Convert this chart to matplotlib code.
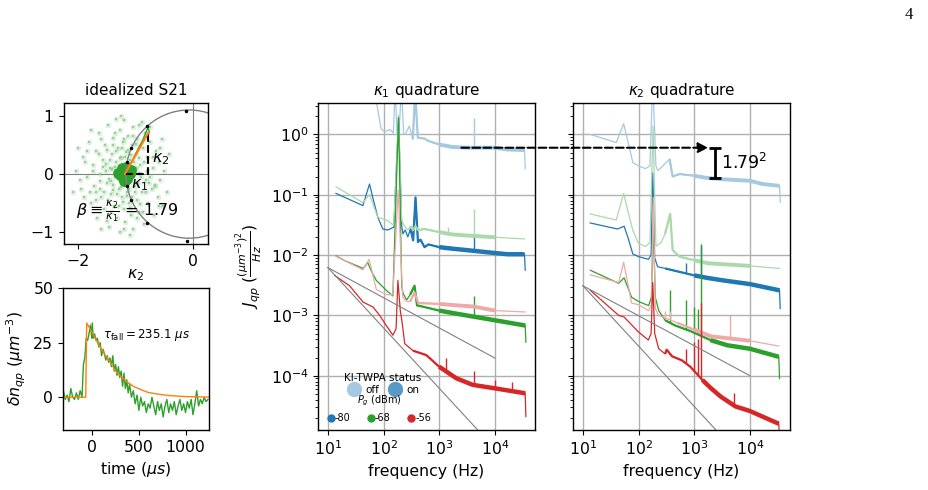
" Recreation of the KI-TWPA quasiparticle noise figure "

import numpy as np
import matplotlib
matplotlib.use("Agg")
import matplotlib.pyplot as plt
import matplotlib.colors as mcolors
from matplotlib.lines import Line2D
from matplotlib.patches import Circle, ConnectionPatch

# ---------------- data: idealized S21 ----------------
circle_center = (-0.07, 0.0)
circle_radius = 1.1
dot_x = [-0.13, -0.80, -1.08, -1.16, -1.16, -1.08, -0.80, -0.10]
dot_y = [1.08, 0.82, 0.44, 0.20, -0.20, -0.44, -0.84, -1.14]
cloud_x = [-2.05, -1.95, -1.92, -1.85, -1.82, -1.78, -1.75, -1.72, -1.70, -1.68,
           -1.65, -1.62, -1.60, -1.58, -1.55, -1.53, -1.50, -1.48, -1.46, -1.45,
           -1.43, -1.42, -1.40, -1.38, -1.36, -1.35, -1.33, -1.31, -1.30, -1.28,
           -1.27, -1.25, -1.24, -1.22, -1.21, -1.20, -1.18, -1.17, -1.15, -1.14,
           -1.12, -1.10, -1.09, -1.07, -1.05, -1.04, -1.02, -1.00, -0.98, -0.97,
           -0.95, -0.93, -0.90, -0.88, -0.86, -0.84, -0.82, -0.80, -0.78, -0.75,
           -0.72, -0.70, -0.68, -0.65, -0.62, -0.60, -0.57, -0.55, -0.52, -0.50,
           -0.45, -0.42, -1.60, -1.50, -1.70, -1.88, -1.34, -1.10, -0.90, -1.98,
           -2.10, -1.52, -1.44, -1.02, -0.94, -0.76, -1.62, -1.36, -0.66, -1.80,
           -1.45, -1.40, -1.35, -1.32, -1.28, -1.26, -1.24, -1.22, -1.18, -1.16,
           -1.13, -1.11, -1.08, -1.06, -1.03, -1.01, -0.99, -0.96, -0.94, -0.91,
           -1.50, -1.55, -1.58, -1.62, -1.48, -1.40, -1.30, -1.20, -1.10, -1.00,
           -0.92, -0.85, -0.83, -0.80, -0.77, -1.65, -1.70, -1.74, -1.44, -1.36,
           -1.52, -1.47, -1.42, -1.39, -1.05, -0.98, -0.88, -0.70, -0.67, -0.60,
           -1.85, -1.90, -1.60, -1.25, -0.95, -0.75, -0.58, -1.78, -2.00, -1.20]
cloud_y = [0.05, -0.25, 0.30, -0.05, 0.55, -0.50, 0.15, -0.20, 0.40, -0.75,
           0.70, 0.00, -0.40, 0.25, -0.60, 0.50, -0.15, 0.85, -0.90, 0.10,
           -0.35, 0.35, 0.62, -0.55, -0.05, 0.20, -0.75, 0.45, -0.25, 0.75,
           -1.00, 0.30, -0.40, 0.55, -0.60, 0.92, -0.82, 0.38, -0.30, 0.65,
           -0.50, 0.25, -0.70, 0.50, -0.95, 0.80, -0.20, 0.35, -0.45, 0.60,
           -0.65, 0.15, -0.30, 0.45, -0.85, 0.70, -0.10, 0.30, -0.50, 0.55,
           -0.25, 0.10, -0.70, 0.40, -0.40, 0.20, -0.10, 0.60, -0.55, 0.05,
           -0.30, 0.35, 0.60, -0.80, -0.45, 0.20, 0.95, -1.05, 0.90, -0.10,
           -0.30, 0.05, -0.12, 0.10, 0.02, -0.05, -0.25, 0.12, -0.18, -0.30,
           0.25, -0.18, 0.40, -0.35, 0.28, -0.22, 0.45, -0.48, 0.30, -0.38,
           0.42, -0.25, 0.32, -0.40, 0.20, -0.30, 0.10, -0.15, 0.28, -0.05,
           0.42, -0.30, 0.12, -0.12, -0.45, 0.50, -0.55, 0.60, -0.58, 0.52,
           -0.52, 0.20, -0.30, 0.05, -0.15, 0.35, -0.30, 0.05, -0.65, 0.70,
           0.18, -0.08, 0.08, -0.28, 0.65, -0.75, -0.65, 0.30, -0.20, -0.55,
           0.40, -0.40, -0.95, 1.00, 0.85, 0.80, 0.45, 0.75, 0.45, -0.95]
core_x = [-1.19, -1.26, -1.12, -1.22, -1.15, -1.19, -1.28, -1.10, -1.18, -1.24,
          -1.13, -1.17, -1.31, -1.21, -1.08]
core_y = [0.00, 0.04, 0.05, -0.07, -0.08, 0.10, -0.02, 0.00, -0.12, 0.10,
          -0.03, 0.13, 0.02, -0.11, 0.07]
trace_x = [-1.17, -1.05, -0.95, -0.88, -0.82, -0.79, -0.76, -0.80]
trace_y = [0.05, 0.25, 0.45, 0.58, 0.72, 0.80, 0.72, 0.66]
kappa_x = [-1.19, -0.78, -0.78]
kappa_y = [0.0, 0.0, 0.71]
beta = 1.79

# ---------------- data: time trace ----------------
time_us = [-310, -290, -270, -250, -230, -210, -190, -170, -150, -130, -110,
           -95, -80, -65, -50, -35, -20, -5, 0, 10, 25, 40, 55, 70, 85, 100,
           115, 130, 145, 160, 175, 190, 205, 220, 235, 250, 265, 280, 295, 310,
           325, 340, 355, 370, 385, 400, 420, 440, 460, 480, 500, 520, 540, 560,
           580, 600, 620, 640, 660, 680, 700, 720, 740, 760, 780, 800, 820, 840,
           860, 880, 900, 920, 940, 960, 980, 1000, 1020, 1040, 1060, 1080, 1100,
           1120, 1140, 1160, 1180, 1200, 1220, 1240]
dnqp = [3, -1, 1, -2, 4, 0, -1, 2, -1, 3, 0,
        15, 18, 27, 26, 29, 33, 27, 34, 27, 29, 26, 27, 23, 25, 19,
        22, 20, 17, 19, 16, 18, 14, 19, 12, 15, 10, 14, 9, 12,
        5, 11, 4, 8, 2, 6, 0, 3, -3, 1, -6, 0, -4, -2,
        -7, -3, -5, 0, -4, -8, -2, -6, -3, -9, -4, -1, -7, -3,
        -6, -2, -8, -4, -1, -6, -3, -7, -2, -5, -1, -8, -3,
        3, -4, -1, -3, 0, -2, -1]
fit_time_us = [-314, -70, -60, -40, 0, 50, 100, 150, 200, 260, 320, 380, 440,
               520, 600, 725, 850, 1000, 1250]
fit_dnqp = [0, 0, 34, 32.5, 29.5, 25.5, 22, 18.5, 15.5, 11.5, 9, 6.8, 5,
            3.5, 2.2, 1.3, 0.7, 0.3, 0.1]
tau_fall = 235.1

# ---------------- data: kappa1 quadrature spectra ----------------
k1_off_blue_f = [14, 42, 55, 65, 74, 90, 105, 130, 150, 162, 175, 190, 210, 230,
                 245, 290, 335, 370, 412, 550, 630, 1000, 1660, 3300, 10000,
                 17000, 34000, 35000]
k1_off_blue_j = [9, 6, 12, 5, 3.6, 1.25, 1.1, 1.2, 1.05, 6, 1.0, 1.1, 6, 1.0,
                 1.0, 1.37, 0.83, 5, 0.88, 0.85, 0.78, 0.68, 0.62, 0.60, 0.60,
                 0.56, 0.55, 0.27]
k1_off_blue_spikes = [(4200, 1.9)]
k1_on_blue_f = [14, 42.5, 56, 64, 79, 97, 120, 153, 186, 212, 223, 245, 273,
                305, 340, 375, 415, 460, 545, 640, 1000, 1660, 3300, 10000,
                17000, 34000, 35000]
k1_on_blue_j = [0.105, 0.066, 0.15, 0.09, 0.042, 0.027, 0.026, 0.029, 1.88,
                0.03, 0.0225, 0.026, 0.020, 0.027, 0.0175, 0.09, 0.0164, 0.018,
                0.0135, 0.015, 0.0135, 0.0128, 0.012, 0.0108, 0.0103, 0.0103,
                0.0056]
k1_on_blue_spikes = [(4200, 0.02)]
k1_off_green_f = [14, 42.5, 56, 79, 97, 120, 153, 186, 212, 245, 273, 305, 340,
                  375, 415, 545, 1000, 1660, 3300, 10000, 34000]
k1_off_green_j = [0.135, 0.074, 0.1, 0.042, 0.04, 0.037, 0.031, 2.08, 0.037,
                  0.029, 0.026, 0.03, 0.026, 0.03, 0.026, 0.027, 0.024, 0.022,
                  0.021, 0.0197, 0.0185]
k1_off_green_spikes = [(1440, 0.029), (4200, 0.058)]
k1_on_green_f = [14, 20, 43, 52, 60, 74, 112, 147, 186, 212, 225, 260, 300, 360,
                 400, 500, 1000, 2000, 10000, 35000, 36000]
k1_on_green_j = [0.0097, 0.0081, 0.006, 0.0075, 0.0055, 0.0038, 0.0026, 0.0021,
                 1.9, 0.003, 0.0023, 0.0018, 0.0022, 0.0031, 0.00146, 0.0014,
                 0.0012, 0.00107, 0.00083, 0.00068, 0.00036]
k1_on_green_spikes = [(4200, 0.0021)]
k1_off_red_f = [14, 42.5, 55, 74, 112, 147, 183, 220, 260, 300, 360, 420, 1000,
                2000, 4200, 10000, 35000]
k1_off_red_j = [0.0095, 0.0057, 0.0085, 0.0027, 0.0022, 0.0022, 0.12, 0.002,
                0.0017, 0.0017, 0.0024, 0.0016, 0.00155, 0.00147, 0.0014,
                0.0012, 0.00114]
k1_off_red_spikes = []
k1_on_red_f = [13.2, 24.5, 43, 65, 85, 112, 147, 168, 181, 200, 217, 240, 338,
               585, 1000, 2030, 4000, 10000, 35000, 36000]
k1_on_red_j = [0.0046, 0.0031, 0.00166, 0.00137, 0.001, 0.00068, 0.00047,
               0.0006, 0.0038, 0.0012, 0.00073, 0.00034, 0.00026, 0.00022,
               0.000141, 0.0000907, 0.0000706, 0.0000618, 0.0000512, 0.000021]
k1_on_red_spikes = [(1340, 0.0002), (4200, 0.00012), (10200, 0.000085),
                    (20000, 0.00008)]

# ---------------- data: kappa2 quadrature spectra ----------------
k2_off_blue_f = [13.5, 39.7, 54, 64, 79, 100, 133, 160, 180, 205, 222, 254, 360,
                 410, 545, 1000, 1660, 3300, 10000, 17000, 34000, 35000]
k2_off_blue_j = [1.0, 0.73, 1.5, 0.78, 0.34, 0.30, 0.27, 0.30, 8.0, 0.3, 0.25,
                 0.28, 0.39, 0.2, 0.22, 0.206, 0.19, 0.18, 0.17, 0.15, 0.14,
                 0.075]
k2_off_blue_spikes = []
k2_on_blue_f = [13.5, 42, 55, 64, 79, 100, 150, 168, 180, 195, 220, 300, 1000,
                1660, 3300, 10000, 34000, 35000]
k2_on_blue_j = [0.034, 0.027, 0.03, 0.02, 0.0104, 0.0094, 0.0085, 0.01, 0.23,
                0.009, 0.0064, 0.006, 0.0046, 0.0042, 0.0038, 0.0033, 0.0026,
                0.0013]
k2_on_blue_spikes = [(720, 0.0073), (1300, 0.0145)]
k2_off_green_f = [13.5, 39.7, 54, 64, 79, 100, 133, 160, 182, 205, 254, 300,
                  370, 410, 545, 1000, 1800, 10000, 34000]
k2_off_green_j = [0.048, 0.038, 0.105, 0.055, 0.0255, 0.0154, 0.0139, 0.016,
                  1.37, 0.014, 0.016, 0.0226, 0.048, 0.012, 0.0094, 0.0082,
                  0.0073, 0.0066, 0.006]
k2_off_green_spikes = []
k2_on_green_f = [13.6, 44, 55, 75, 100, 152, 170, 184, 200, 230, 300, 455, 850,
                 1950, 3900, 10000, 33000, 34000]
k2_on_green_j = [0.0056, 0.0034, 0.0042, 0.002, 0.0017, 0.00145, 0.002, 0.031,
                 0.002, 0.0012, 0.00083, 0.00068, 0.00055, 0.00039, 0.00032,
                 0.00028, 0.000206, 0.00009]
k2_on_green_spikes = [(370, 0.0026), (720, 0.0018), (1000, 0.00137),
                      (1160, 0.0013), (1330, 0.015)]
k2_off_red_f = [13.6, 44, 54, 75, 100, 152, 170, 184, 200, 230, 500, 1000, 2000,
                10000, 33000]
k2_off_red_j = [0.0047, 0.0035, 0.0076, 0.0016, 0.0015, 0.0012, 0.0015, 0.09,
                0.0013, 0.001, 0.00075, 0.00058, 0.00045, 0.00038, 0.00031]
k2_off_red_spikes = [(300, 0.0012), (370, 0.0012), (4300, 0.001)]
k2_on_red_f = [13.6, 44, 55, 100, 150, 168, 180, 195, 230, 300, 320, 400, 600,
               850, 1400, 2000, 3000, 5500, 10000, 33000, 34000]
k2_on_red_j = [0.0026, 0.001, 0.00094, 0.00053, 0.00039, 0.0005, 0.0035, 0.0005,
               0.00028, 0.00023, 0.00027, 0.00021, 0.00018, 0.000141, 0.000085,
               0.000062, 0.000045, 0.000031, 0.000026, 0.000016, 0.000008]
k2_on_red_spikes = [(700, 0.00028), (1000, 0.00036), (1160, 0.0004),
                    (1330, 0.0016), (5200, 0.000052)]

# guide lines (f^-1/2 and f^-1) and the beta^2 annotation
k1_guide_f = [10, 10000]
k1_guide_half = [6.2e-3, 1.96e-4]
k1_guide_one = [6.2e-3, 6.2e-6]
k2_guide_f = [10, 10000]
k2_guide_half = [3.1e-3, 1.0e-4]
k2_guide_one = [3.1e-3, 3.1e-6]
arrow_f_start = 2500
arrow_f_end = 1790
arrow_level = 0.6
bar_f = 2400

power_labels = ["-80", "-68", "-56"]
twpa_labels = ["off", "on"]
base_colors = ["tab:blue", "tab:green", "tab:red"]


def lighten(color, alpha=0.4):
    rgb = np.array(mcolors.to_rgb(color))
    return tuple(alpha * rgb + (1 - alpha) * np.ones(3))


def draw_spectrum(ax, f, j, spikes, color, band_lw):
    f = np.asarray(f, dtype=float)
    j = np.asarray(j, dtype=float)
    ax.plot(f, j, color=color, lw=0.9)
    mid = (f >= 300) & (f < f.max())
    ax.plot(f[mid], j[mid], color=color, lw=1.6, solid_capstyle="butt")
    tail = (f >= 1000) & (f < f.max())
    ax.plot(f[tail], j[tail], color=color, lw=band_lw, solid_capstyle="butt")
    for sf, top in spikes:
        base = 10 ** np.interp(np.log10(sf), np.log10(f), np.log10(j))
        ax.vlines(sf, base, top, color=color, lw=1.0)


plt.rcParams["axes.linewidth"] = 1.0
plt.rcParams["font.size"] = 11.3
plt.rcParams["axes.titlesize"] = 11
fig = plt.figure(figsize=(9.29, 4.9), dpi=100)

# ---------------- idealized S21 ----------------
ax_s21 = fig.add_axes([0.0684, 0.502, 0.1555, 0.2878])
ax_s21.axhline(0, color="gray", lw=0.8, zorder=0)
ax_s21.axvline(0, color="gray", lw=0.8, zorder=0)
ax_s21.scatter(cloud_x, cloud_y, s=16, color="tab:green", alpha=0.16,
               linewidths=0)
ax_s21.scatter(cloud_x, cloud_y, s=1.5, color=lighten("tab:green", 0.5),
               linewidths=0, marker="s")
ax_s21.scatter(core_x, core_y, s=60, color="tab:green", linewidths=0)
ax_s21.plot(trace_x, trace_y, color="tab:green", lw=1)
ax_s21.add_patch(Circle(circle_center, circle_radius, fill=False,
                        color="gray", lw=1))
ax_s21.plot(dot_x, dot_y, "k.", ms=3)
ax_s21.plot(kappa_x, kappa_y, "k--", lw=1.5)
ax_s21.plot([kappa_x[0], kappa_x[2]], [kappa_y[0], kappa_y[2]],
            color="tab:orange", lw=1.5)
ax_s21.text(-0.72, 0.25, r"$\kappa_2$", fontsize=11.5, va="center")
ax_s21.text(-1.08, -0.19, r"$\kappa_1$", fontsize=11.5, va="center")
ax_s21.text(-1.14, -0.64,
            r"$\beta \equiv \frac{\kappa_2}{\kappa_1}$ = " + f"{beta:.2f}",
            fontsize=11.5, ha="center", va="center")
ax_s21.set_xlim(-2.26, 0.26)
ax_s21.set_ylim(-1.2, 1.22)
ax_s21.set_xticks([-2, 0])
ax_s21.set_yticks([-1, 0, 1])
ax_s21.set_xlabel(r"$\kappa_2$", labelpad=-1)
ax_s21.set_title("idealized S21")

# ---------------- time trace ----------------
ax_t = fig.add_axes([0.0678, 0.1224, 0.157, 0.2898])
ax_t.plot(time_us, dnqp, color="tab:green", lw=1)
ax_t.plot(fit_time_us, fit_dnqp, color="tab:orange", lw=1)
ax_t.text(118, 28.6, r"$\tau_{\rm fall} = $" + f"{tau_fall}" + r" $\mu s$",
          fontsize=8.5, va="center")
ax_t.set_xlim(-314, 1250)
ax_t.set_ylim(-15, 50)
ax_t.set_xticks([0, 500, 1000])
ax_t.set_yticks([0, 25, 50])
ax_t.set_xlabel(r"time ($\mu s$)")
ax_t.set_ylabel(r"$\delta n_{qp}$ ($\mu m^{-3}$)")

# ---------------- spectra ----------------
ax_k1 = fig.add_axes([0.3423, 0.1224, 0.2336, 0.6673])
ax_k2 = fig.add_axes([0.6168, 0.1224, 0.2336, 0.6673])

k1_series = [
    (k1_off_blue_f, k1_off_blue_j, k1_off_blue_spikes, 0, False),
    (k1_on_blue_f, k1_on_blue_j, k1_on_blue_spikes, 0, True),
    (k1_off_green_f, k1_off_green_j, k1_off_green_spikes, 1, False),
    (k1_on_green_f, k1_on_green_j, k1_on_green_spikes, 1, True),
    (k1_off_red_f, k1_off_red_j, k1_off_red_spikes, 2, False),
    (k1_on_red_f, k1_on_red_j, k1_on_red_spikes, 2, True),
]
k2_series = [
    (k2_off_blue_f, k2_off_blue_j, k2_off_blue_spikes, 0, False),
    (k2_on_blue_f, k2_on_blue_j, k2_on_blue_spikes, 0, True),
    (k2_off_green_f, k2_off_green_j, k2_off_green_spikes, 1, False),
    (k2_on_green_f, k2_on_green_j, k2_on_green_spikes, 1, True),
    (k2_off_red_f, k2_off_red_j, k2_off_red_spikes, 2, False),
    (k2_on_red_f, k2_on_red_j, k2_on_red_spikes, 2, True),
]

for ax, series, gf, gh, go in [
    (ax_k1, k1_series, k1_guide_f, k1_guide_half, k1_guide_one),
    (ax_k2, k2_series, k2_guide_f, k2_guide_half, k2_guide_one),
]:
    for f, j, spikes, ci, on in series:
        color = base_colors[ci] if on else lighten(base_colors[ci])
        draw_spectrum(ax, f, j, spikes, color, 3.2 if on else 2.8)
    ax.plot(gf, gh, color="gray", lw=0.8)
    ax.plot(gf, go, color="gray", lw=0.8)
    ax.set_xscale("log")
    ax.set_yscale("log")
    ax.set_xlim(6.65, 52500)
    ax.set_ylim(1.26e-5, 3.3)
    ax.set_xticks([10, 100, 1000, 10000])
    ax.xaxis.set_minor_locator(matplotlib.ticker.NullLocator())
    ax.grid(True, which="major", color="#b0b0b0", lw=1)
    ax.set_axisbelow(True)
    ax.set_xlabel("frequency (Hz)")

ax_k1.set_title(r"$\kappa_1$ quadrature")
ax_k2.set_title(r"$\kappa_2$ quadrature")
ax_k1.set_ylabel(r"$J_{qp}$ $(\frac{(\mu m^{-3})^2}{Hz})$")
ax_k2.tick_params(axis="y", which="both", labelleft=False)

# legends
twpa_handles = [
    Line2D([], [], ls="", marker="o", ms=10, color=lighten("tab:blue", 0.4)),
    Line2D([], [], ls="", marker="o", ms=10, color=lighten("tab:blue", 0.75)),
]
leg1 = ax_k1.legend(twpa_handles, twpa_labels, title="KI-TWPA status", ncol=2,
                    frameon=False, fontsize=7.5, title_fontsize=7.5,
                    handlelength=1.3, handletextpad=0.4, columnspacing=0.9,
                    borderpad=0, labelspacing=0.2, loc="lower left",
                    bbox_to_anchor=(0.098, 0.092))
ax_k1.add_artist(leg1)
pg_handles = [Line2D([], [], ls="", marker="o", ms=5, color=c)
              for c in base_colors]
ax_k1.legend(pg_handles, power_labels, title=r"$P_g$ (dBm)", ncol=3,
             frameon=False, fontsize=7, title_fontsize=7,
             handletextpad=0.15, columnspacing=1.75, handlelength=0.6,
             borderpad=0, loc="lower left", bbox_to_anchor=(0.022, 0.006))

# beta^2 annotation
con = ConnectionPatch(xyA=(arrow_f_start, arrow_level), coordsA=ax_k1.transData,
                      xyB=(arrow_f_end, arrow_level), coordsB=ax_k2.transData,
                      arrowstyle="-|>", linestyle="--", lw=1.5, color="k",
                      mutation_scale=15)
fig.add_artist(con)
ax_k2.errorbar([bar_f], [arrow_level],
               yerr=[[arrow_level - arrow_level / beta**2], [0]],
               fmt="none", ecolor="k", elinewidth=2, capsize=4, capthick=2)
ax_k2.text(bar_f * 1.25, arrow_level / beta, f"{beta:.2f}$^2$", fontsize=12.5,
           va="center")

fig.text(0.983, 0.97, "4", fontsize=12, family="Liberation Serif",
         ha="right", va="center")

fig.savefig("out.png", dpi=100)
